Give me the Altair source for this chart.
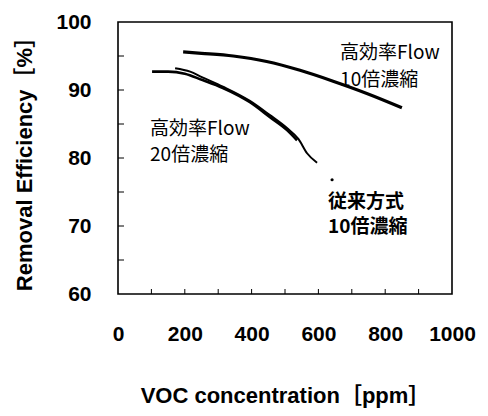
import altair as alt
import pandas as pd

# --- data ---
flow10_x = [195, 250, 345, 445, 545, 644, 745, 850]
flow10_y = [95.6, 95.4, 95.0, 94.2, 92.9, 91.3, 89.5, 87.4]

flow20_x = [102, 150, 200, 251, 314, 395, 455, 506, 536]
flow20_y = [92.7, 92.7, 92.4, 91.5, 90.3, 88.2, 86.0, 84.1, 82.6]

conv_x = [171, 216, 251, 314, 395, 455, 506, 540, 566, 596]
conv_y = [93.2, 92.7, 91.9, 90.5, 88.4, 86.3, 84.4, 82.8, 80.7, 79.3]

dot_x = [641]
dot_y = [76.8]

x_labels = [0, 200, 400, 600, 800, 1000]
y_labels = [60, 70, 80, 90, 100]
x_minor = [100, 200, 300, 400, 500, 600, 700, 800, 900]
y_minor = [65, 70, 75, 80, 85, 90, 95]

ann_text = ["高効率Flow", "10倍濃縮", "高効率Flow", "20倍濃縮", "従来方式", "10倍濃縮"]
ann_x = [665, 665, 96, 96, 629, 629]
ann_y = [95.5, 91.5, 84.2, 80.4, 73.6, 69.9]
ann_bold = [False, False, False, False, True, True]

rows = []
for name, xs, ys in [("flow10", flow10_x, flow10_y),
                     ("flow20", flow20_x, flow20_y),
                     ("conv", conv_x, conv_y)]:
    for xv, yv in zip(xs, ys):
        rows.append({"series": name, "ppm": xv, "eff": yv})
lines_df = pd.DataFrame(rows)
dot_df = pd.DataFrame({"ppm": dot_x, "eff": dot_y})
ann_df = pd.DataFrame({"t": ann_text, "ppm": ann_x, "eff": ann_y, "b": ann_bold})
xt_df = pd.DataFrame({"ppm": x_minor})
yt_df = pd.DataFrame({"eff": y_minor})

LAT = "Liberation Sans, Arial, Noto Sans CJK JP"
CJK = "Noto Sans CJK JP, sans-serif"

xscale = alt.Scale(domain=[0, 1000], nice=False, zero=False)
yscale = alt.Scale(domain=[60, 100], nice=False, zero=False)

x_axis = alt.Axis(values=x_labels, format="d", title="VOC concentration［ppm］",
                  grid=False, domain=False, ticks=False,
                  labelFont=LAT, labelFontSize=21, labelFontWeight="bold",
                  labelColor="black", labelPadding=29, labelFlush=False,
                  titleFont=LAT, titleFontSize=22, titleFontWeight="bold",
                  titleColor="black", titlePadding=41)
y_axis = alt.Axis(values=y_labels, format="d", title="Removal Efficiency［%］",
                  grid=False, domain=False, ticks=False,
                  labelFont=LAT, labelFontSize=21, labelFontWeight="bold",
                  labelColor="black", labelPadding=27, labelFlush=False,
                  titleFont=LAT, titleFontSize=22, titleFontWeight="bold",
                  titleColor="black", titlePadding=19)

X = alt.X("ppm:Q", scale=xscale, axis=x_axis)
Y = alt.Y("eff:Q", scale=yscale, axis=y_axis)

W, H = 334, 272

lines = alt.Chart(lines_df).mark_line(interpolate="monotone", color="black").encode(
    x=X, y=Y,
    detail="series:N",
    strokeWidth=alt.StrokeWidth("series:N",
                                scale=alt.Scale(domain=["flow10", "flow20", "conv"],
                                                range=[3.2, 2, 2]),
                                legend=None),
)

dot = alt.Chart(dot_df).mark_circle(color="black", opacity=1, size=10).encode(x=X, y=Y)

ann_norm = alt.Chart(ann_df).transform_filter("!datum.b").mark_text(
    align="left", baseline="middle", font=CJK, fontSize=19, color="black").encode(
    x=X, y=Y, text="t:N")
ann_bold_l = alt.Chart(ann_df).transform_filter("datum.b").mark_text(
    align="left", baseline="middle", font=CJK, fontSize=19, fontWeight="bold",
    color="black").encode(x=X, y=Y, text="t:N")

xticks = alt.Chart(xt_df).mark_rule(color="black", strokeWidth=1).encode(
    x=X, y=alt.value(H), y2=alt.value(H - 5))

yticks = alt.Chart(yt_df).mark_rule(color="black", strokeWidth=1).encode(
    y=Y, x=alt.value(0), x2=alt.value(6))

chart = alt.layer(lines, dot, ann_norm, ann_bold_l, xticks, yticks).properties(
    width=W, height=H,
    padding={"left": 110, "top": 14, "right": 28, "bottom": 114},
    autosize=alt.AutoSizeParams(type="none"),
    background="white",
).configure_view(stroke="black", strokeWidth=1.6)

chart.save("out.html", embed_options={"renderer": "svg", "actions": False})
